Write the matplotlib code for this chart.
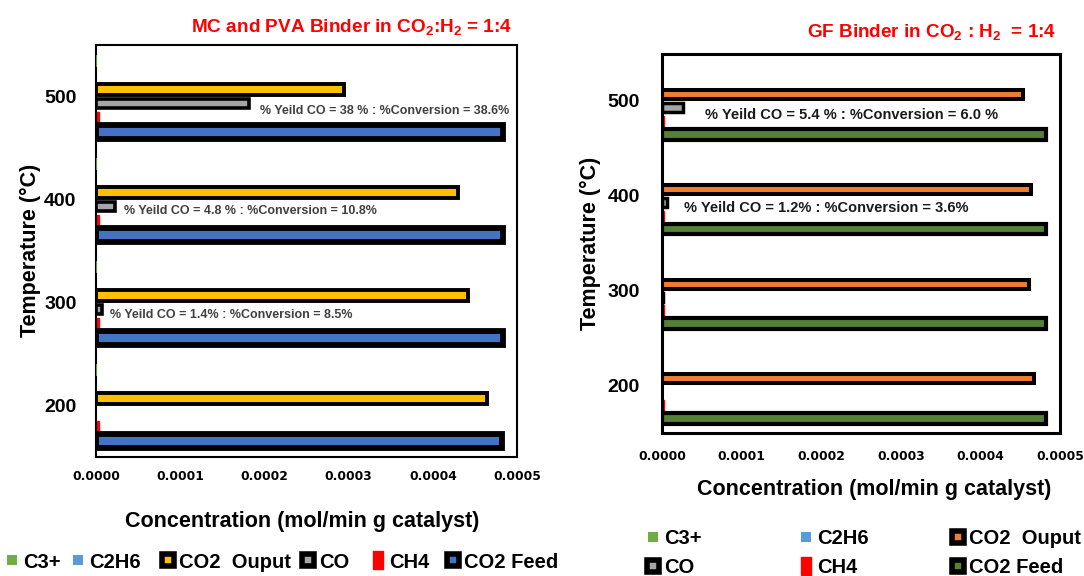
import matplotlib
matplotlib.use("Agg")
import matplotlib.pyplot as plt
from matplotlib.lines import Line2D
import numpy as np

plt.rcParams['font.family'] = ['Liberation Sans', 'DejaVu Sans']
plt.rcParams['font.weight'] = 'bold'
plt.rcParams['mathtext.fontset'] = 'custom'
plt.rcParams['mathtext.rm'] = 'Liberation Sans:bold'
plt.rcParams['mathtext.it'] = 'Liberation Sans:bold'
plt.rcParams['mathtext.bf'] = 'Liberation Sans:bold'

# ---- data (mol/min g catalyst), categories bottom -> top ----
temperatures = ['200', '300', '400', '500']
series_names = ['C3+', 'C2H6', 'CO2  Ouput', 'CO', 'CH4', 'CO2 Feed']
x_ticks = [0.0, 0.0001, 0.0002, 0.0003, 0.0004, 0.0005]

# MC and PVA binder
mc_c3 = [0.0, 0.0, 0.0, 0.0]
mc_c2h6 = [0.0, 0.0, 0.0, 0.0]
mc_co2_out = [0.000464, 0.000442, 0.000430, 0.000295]
mc_co = [0.0, 0.0000068, 0.0000230, 0.000182]
mc_ch4 = [0.000003, 0.000003, 0.000003, 0.000003]
mc_co2_feed = [0.000482, 0.000483, 0.000483, 0.000483]
mc_notes = ['', '% Yeild CO = 1.4% : %Conversion = 8.5%',
            '% Yeild CO = 4.8 % : %Conversion = 10.8%',
            '% Yeild CO = 38 % : %Conversion = 38.6%']

# GF binder
gf_c3 = [0.0, 0.0, 0.0, 0.0]
gf_c2h6 = [0.0, 0.0, 0.0, 0.0]
gf_co2_out = [0.000467, 0.000461, 0.000464, 0.000454]
gf_co = [0.0, 0.0000010, 0.0000058, 0.000026]
gf_ch4 = [0.000003, 0.000003, 0.000003, 0.000003]
gf_co2_feed = [0.000482, 0.000482, 0.000482, 0.000482]
gf_notes = ['', '', '% Yeild CO = 1.2% : %Conversion = 3.6%',
            '% Yeild CO = 5.4 % : %Conversion = 6.0 %']

W, H = 1084, 576
fig = plt.figure(figsize=(W / 100, H / 100), dpi=100)


def px_rect(x0, y0, x1, y1):
    return [x0 / W, 1 - y1 / H, (x1 - x0) / W, (y1 - y0) / H]


def draw_panel(ax, series, styles, pitch, notes, note_pos, note_style, spine_lw):
    ypos = np.arange(len(temperatures))
    offsets = np.array([2.5, 1.5, 0.5, -0.5, -1.5, -2.5]) * pitch
    for vals, off, st in zip(series, offsets, styles):
        lws = [st['lw'] if (v > 0 or st.get('zero_edge')) else 0 for v in vals]
        ax.barh(ypos + off, vals, height=st['h'], color=st['face'],
                edgecolor=st['edge'], linewidth=lws, zorder=st.get('z', 2))
    ax.set_xlim(0, 0.0005)
    ax.set_ylim(-0.5, len(temperatures) - 0.5)
    ax.set_yticks(ypos, temperatures)
    ax.set_xticks(x_ticks, [f'{t:.4f}' for t in x_ticks])
    for lbl in ax.get_yticklabels():
        lbl.set_fontsize(14)
        lbl.set_fontweight('bold')
    for lbl in ax.get_xticklabels():
        lbl.set_fontfamily('DejaVu Sans')
        lbl.set_fontsize(8.8)
        lbl.set_fontweight('bold')
    ax.tick_params(length=0)
    for sp in ax.spines.values():
        sp.set_linewidth(spine_lw)
        sp.set_color('black')
    for note, (nx, ny) in zip(notes, note_pos):
        if note:
            ax.text(nx, ny, note, ha='left', va='center', **note_style)


# ---- left panel ----
axL = fig.add_axes(px_rect(96, 45, 517, 457))
left_styles = [
    dict(face='#70AD47', edge='#70AD47', lw=1.2, h=0.12, zero_edge=True, z=3),
    dict(face='#5B9BD5', edge='#5B9BD5', lw=0, h=0.12),
    dict(face='#FFC000', edge='black', lw=2.8, h=0.10),
    dict(face='#A5A5A5', edge='black', lw=2.6, h=0.085),
    dict(face='#FF0000', edge='#FF0000', lw=1.0, h=0.115),
    dict(face='#4472C4', edge='black', lw=4.2, h=0.13),
]
draw_panel(axL, [mc_c3, mc_c2h6, mc_co2_out, mc_co, mc_ch4, mc_co2_feed],
           left_styles, 0.138, mc_notes,
           [(0, 0), (0.0000166, 0.883), (0.0000330, 1.888), (0.000195, 2.859)],
           dict(fontsize=9, color='#404040', fontweight='bold'), 1.5)
axL.tick_params(axis='y', pad=14)
axL.tick_params(axis='x', pad=9)

# ---- right panel ----
axR = fig.add_axes(px_rect(662, 53.5, 1060, 433))
right_styles = [
    dict(face='#70AD47', edge='#70AD47', lw=0, h=0.11),
    dict(face='#5B9BD5', edge='#5B9BD5', lw=0, h=0.11),
    dict(face='#ED7D31', edge='black', lw=2.9, h=0.095),
    dict(face='#A5A5A5', edge='black', lw=2.5, h=0.095),
    dict(face='#FF0000', edge='#FF0000', lw=1.0, h=0.11),
    dict(face='#548235', edge='black', lw=3.0, h=0.114),
]
draw_panel(axR, [gf_c3, gf_c2h6, gf_co2_out, gf_co, gf_ch4, gf_co2_feed],
           right_styles, 0.14, gf_notes,
           [(0, 0), (0, 0), (0.0000276, 1.87), (0.000054, 2.853)],
           dict(fontsize=10.5, color='#1a1a1a', fontweight='bold'), 2.2)
axR.tick_params(axis='y', pad=16)
axR.tick_params(axis='x', pad=12)

# ---- titles and axis labels ----
fig.text(352 / W, 1 - 27 / H, 'MC and PVA Binder in CO$_2$:H$_2$ = 1:4',
         color='#FF0000', fontsize=13.7, fontweight='bold', ha='center', va='center')
fig.text(932 / W, 1 - 32 / H, 'GF Binder in CO$_2$ : H$_2$  = 1:4',
         color='#FF0000', fontsize=13.6, fontweight='bold', ha='center', va='center')

for (xc, yc) in [(30, 250), (590, 243)]:
    fig.text(xc / W, 1 - yc / H, 'Temperature (°C)', rotation=90,
             fontsize=15.5, fontweight='bold', ha='center', va='center')
for (xc, yc) in [(302, 522), (874, 489)]:
    fig.text(xc / W, 1 - yc / H, 'Concentration (mol/min g catalyst)',
             fontsize=15.5, fontweight='bold', ha='center', va='center')


# ---- legends ----
def square(face, edge, size, mew):
    return Line2D([], [], linestyle='none', marker='s', markersize=size,
                  markerfacecolor=face, markeredgecolor=edge, markeredgewidth=mew)


tall_rect = [(-0.55, -1), (0.55, -1), (0.55, 1), (-0.55, 1), (-0.55, -1)]


def legend_handles(out_color, feed_color):
    return [
        square('#70AD47', '#70AD47', 7, 0),
        square('#5B9BD5', '#5B9BD5', 7, 0),
        square(out_color, 'black', 9, 4),
        square('#A5A5A5', 'black', 9, 4),
        Line2D([], [], linestyle='none', marker=tall_rect, markersize=13,
               markerfacecolor='#FF0000', markeredgecolor='#FF0000'),
        square(feed_color, 'black', 9, 4),
    ]


legend_kw = dict(loc='center left', frameon=False, prop=dict(size=14.5, weight='bold'),
                 handlelength=0.8, handletextpad=0.15, borderaxespad=0,
                 borderpad=0, labelspacing=0.5)

# left panel legend: one row, each entry placed along the bottom
hl = legend_handles('#FFC000', '#4472C4')
for i, x_left in enumerate([4, 70, 160, 300, 370, 445]):
    fig.legend([hl[i]], [series_names[i]],
               bbox_to_anchor=(x_left / W, 1 - 562 / H), **legend_kw)

# right panel legend: three columns of two rows
hr = legend_handles('#ED7D31', '#548235')
for col, x_left in zip([(0, 3), (1, 4), (2, 5)], [645, 798, 950]):
    fig.legend([hr[i] for i in col], [series_names[i] for i in col],
               bbox_to_anchor=(x_left / W, 1 - 553 / H), **legend_kw)

fig.savefig('out.png', dpi=100)
